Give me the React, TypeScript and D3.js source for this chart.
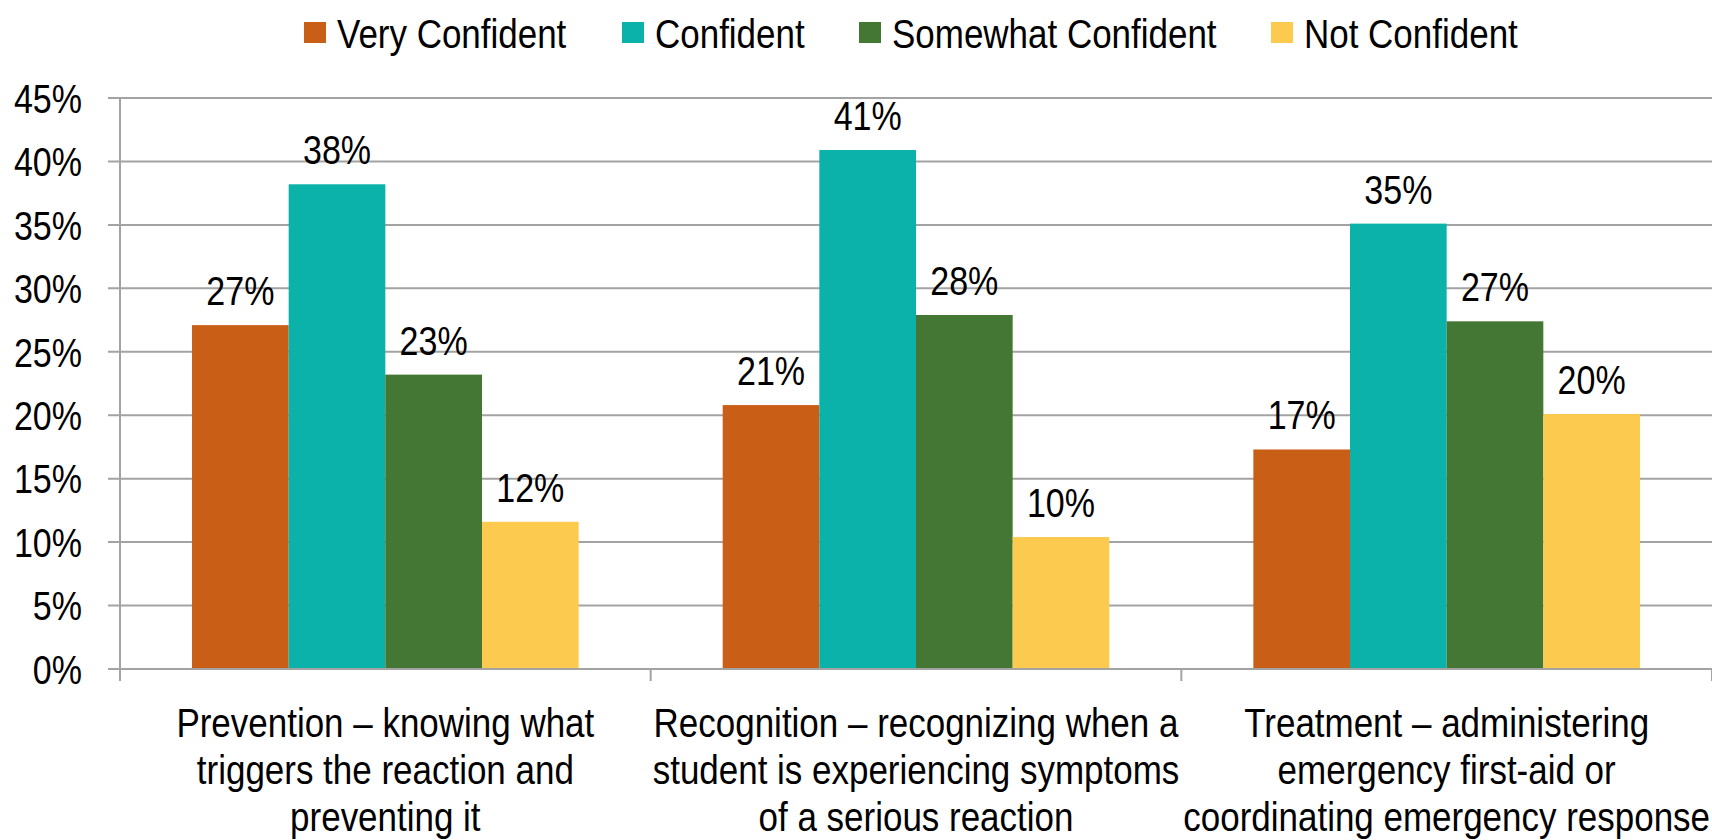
import React from "react";
import * as d3 from "d3";

const categories = [
  ["Prevention – knowing what", "triggers the reaction and", "preventing it"],
  ["Recognition – recognizing when a", "student is experiencing symptoms", "of a serious reaction"],
  ["Treatment – administering", "emergency first-aid or", "coordinating emergency response"],
];
const seriesNames = ["Very Confident", "Confident", "Somewhat Confident", "Not Confident"];
const seriesColors = ["#C95F17", "#0AB2AA", "#437733", "#FDCA50"];
const veryConfident = [0.271, 0.208, 0.173];
const confident = [0.382, 0.409, 0.351];
const somewhatConfident = [0.232, 0.279, 0.274];
const notConfident = [0.116, 0.104, 0.201];
const yTicks = [0, 0.05, 0.1, 0.15, 0.2, 0.25, 0.3, 0.35, 0.4, 0.45];

const seriesValues = [veryConfident, confident, somewhatConfident, notConfident];
const legendX = [304, 622, 859, 1271];

const W = 1712;
const H = 840;
const FONT = "'Liberation Sans', Arial, sans-serif";
const SX_WORD = 0.853;
const SX_NUM = 0.83;

function T({
  x,
  y,
  anchor = "start",
  dy,
  size = 41,
  sx = SX_WORD,
  children,
}: {
  x: number;
  y: number;
  anchor?: string;
  dy?: string;
  size?: number;
  sx?: number;
  children: React.ReactNode;
}) {
  return (
    <g transform={`translate(${x},${y}) scale(${sx},1)`}>
      <text x={0} y={0} dy={dy} textAnchor={anchor as any} fontSize={size} fill="#000">
        {children}
      </text>
    </g>
  );
}

export default function App() {
  const left = 120;
  const right = 1712;
  const top = 98;
  const bottom = 669;
  const catIdx = categories.map((_, i) => String(i));
  const x0 = d3.scaleBand<string>().domain(catIdx).range([left, right]).paddingInner(0).paddingOuter(0);
  const x1 = d3
    .scaleBand<string>()
    .domain(seriesNames)
    .range([0, x0.bandwidth()])
    .paddingInner(0)
    .paddingOuter(0.745);
  const y = d3.scaleLinear().domain([0, 0.45]).range([bottom, top]);
  const fmt = d3.format(".0%");
  const grid = "#A3A3A3";

  return (
    <svg
      width={W}
      height={H}
      style={{ position: "absolute", left: 0, top: 0, background: "#fff" }}
      fontFamily={FONT}
    >
      {yTicks.map((t) => (
        <g key={t}>
          <line x1={left - 12} x2={right} y1={y(t)} y2={y(t)} stroke={grid} strokeWidth={2} />
          <T x={82} y={y(t)} dy="0.36em" anchor="end" sx={SX_NUM}>
            {fmt(t)}
          </T>
        </g>
      ))}
      <line x1={left} x2={left} y1={top} y2={bottom + 12} stroke={grid} strokeWidth={2} />
      {catIdx.map((c) => (
        <line
          key={c}
          x1={(x0(c) as number) + x0.bandwidth()}
          x2={(x0(c) as number) + x0.bandwidth()}
          y1={bottom}
          y2={bottom + 12}
          stroke={grid}
          strokeWidth={2}
        />
      ))}
      {catIdx.map((c, ci) => (
        <g key={c} transform={`translate(${x0(c)},0)`}>
          {seriesNames.map((s, si) => {
            const v = seriesValues[si][ci];
            const bx = x1(s) as number;
            return (
              <g key={s}>
                <rect
                  x={bx}
                  y={y(v)}
                  width={x1.bandwidth()}
                  height={bottom - y(v) - 1}
                  fill={seriesColors[si]}
                />
                <T x={bx + x1.bandwidth() / 2} y={y(v) - 20} anchor="middle" sx={SX_NUM}>
                  {fmt(v)}
                </T>
              </g>
            );
          })}
        </g>
      ))}
      {categories.map((lines, ci) =>
        lines.map((l, li) => (
          <T
            key={`${ci}-${li}`}
            x={(x0(String(ci)) as number) + x0.bandwidth() / 2}
            y={737 + li * 47}
            anchor="middle"
          >
            {l}
          </T>
        ))
      )}
      {seriesNames.map((s, si) => (
        <g key={s}>
          <rect x={legendX[si]} y={22} width={22} height={21} fill={seriesColors[si]} />
          <T x={legendX[si] + 33} y={33} dy="0.36em">
            {s}
          </T>
        </g>
      ))}
    </svg>
  );
}
